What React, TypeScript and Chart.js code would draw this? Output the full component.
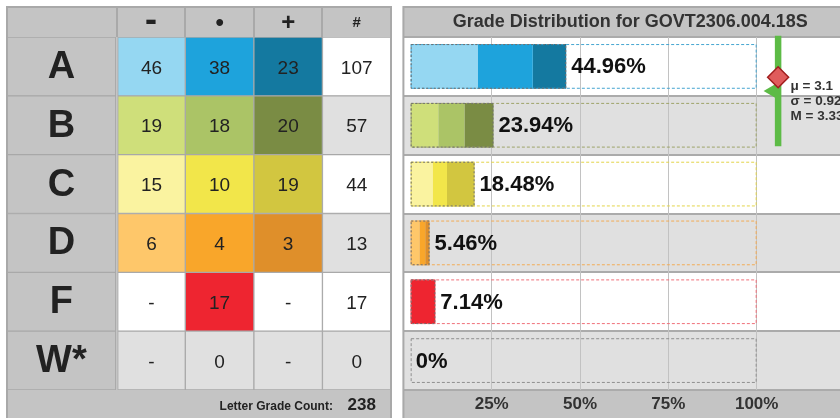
import React, { useEffect, useRef } from 'react';
import { Chart, registerables } from 'chart.js';

Chart.register(...registerables);

// ---------------- data ----------------
const categories = ['A', 'B', 'C', 'D', 'F', 'W*'];
const headerLabels = ['-', '•', '+', '#'];
const minusCounts: (number | null)[] = [46, 19, 15, 6, null, null];
const dotCounts: (number | null)[] = [38, 18, 10, 4, 17, 0];
const plusCounts: (number | null)[] = [23, 20, 19, 3, null, null];
const totalCounts: (number | null)[] = [107, 57, 44, 13, 17, 0];
const letterGradeCount = 238;

const minusPct = [19.33, 7.98, 6.3, 2.52, 0, 0];
const dotPct = [15.97, 7.56, 4.2, 1.68, 7.14, 0];
const plusPct = [9.66, 8.4, 7.98, 1.26, 0, 0];
const totalPct = [44.96, 23.94, 18.48, 5.46, 7.14, 0];
const totalPctLabels = ['44.96%', '23.94%', '18.48%', '5.46%', '7.14%', '0%'];
const gridTicks = [25, 50, 75, 100];

const statMean = 3.1;
const statSd = 0.92;
const statMedian = 3.33;
const chartTitle = 'Grade Distribution for GOVT2306.004.18S';

// ---------------- styles / layout constants ----------------
const FONT = '"Liberation Sans", Arial, Helvetica, sans-serif';
const GRID = '#a9a9a9';
const HEAD = '#c4c4c4';
const TEXT = '#222222';
const GREEN = '#5dbb46';
const ROW_BG = ['#ffffff', '#e0e0e0', '#ffffff', '#e0e0e0', '#ffffff', '#e0e0e0'];
const minusColors = ['#95d7f2', '#cfdf7a', '#faf3a0', '#fec76a', ROW_BG[4], ROW_BG[5]];
const dotColors = ['#1ea3dc', '#abc466', '#f2e64a', '#f9a62a', '#ee2530', ROW_BG[5]];
const plusColors = ['#1479a0', '#7a8c44', '#d2c640', '#df8f2a', ROW_BG[4], ROW_BG[5]];
const outlineColors = ['#45a5d0', '#9ea46a', '#e3d54a', '#f2ab55', '#f0707a', '#8f8f8f'];

const LETTER_SPAN: [number, number] = [-1.6, 0];
const COL_EDGES = [-1.6, 0, 1, 2, 3, 4];
const FULL_SCALE = 100;
const BAR_MIN = -2.1;
const BAR_MAX = 129;
const GRID_MAX = 128.4;
const GPA_MIN = -1.88;
const GPA_MAX = 4;
const STATS_X = 106.2;
const MEAN_MARK_X = 104.4;

const fmt = (v: number | null) => (v == null ? '-' : String(v));
const cells = (col: number) => categories.map(() => [col, col + 1]);

const cellDefaults = {
  borderColor: GRID,
  borderWidth: 1,
  borderSkipped: false,
  barPercentage: 1,
  categoryPercentage: 1,
  grouped: false,
};

const headerFonts = [
  { size: 12, family: FONT },
  { size: 30, weight: 'bold', family: '"DejaVu Sans", ' + FONT },
  { size: 24, weight: 'bold', family: FONT },
  { size: 24, weight: 'bold', family: FONT },
  { size: 15, weight: 'bold', family: FONT },
  { size: 12, family: FONT },
].map((f) => ({ ...f, lineHeight: '24px' }));

const tablePlugin = {
  id: 'tablePlugin',
  beforeDraw(chart: any) {
    const { ctx, chartArea: ca, height } = chart;
    ctx.save();
    ctx.fillStyle = HEAD;
    ctx.fillRect(7, 7, ca.right - 7, height - 7);
    ctx.restore();
  },
  afterDatasetsDraw(chart: any) {
    const { ctx } = chart;
    ctx.save();
    ctx.textAlign = 'center';
    ctx.textBaseline = 'middle';
    chart.data.datasets.forEach((ds: any, di: number) => {
      const meta = chart.getDatasetMeta(di);
      meta.data.forEach((el: any, i: number) => {
        const cx = (el.x + el.base) / 2;
        ctx.font = ds.cellFont;
        ctx.fillStyle = TEXT;
        ctx.fillText(ds.cellText[i], cx, el.y + ds.dy);
      });
    });
    ctx.restore();
  },
  afterDraw(chart: any) {
    const { ctx, chartArea: ca, height } = chart;
    const x = chart.scales.x;
    ctx.save();
    ctx.fillStyle = TEXT;
    ctx.textBaseline = 'alphabetic';
    ctx.textAlign = 'right';
    ctx.font = 'bold 12px ' + FONT;
    ctx.fillText('Letter Grade Count:', x.getPixelForValue(3) + 10.5, 410);
    ctx.textAlign = 'center';
    ctx.font = 'bold 17px ' + FONT;
    ctx.fillText(String(letterGradeCount), x.getPixelForValue(3.5) + 5, 410);
    ctx.strokeStyle = GRID;
    ctx.lineWidth = 2;
    ctx.strokeRect(7, 7, ca.right - 7, height);
    ctx.restore();
  },
};

function leftConfig(): any {
  return {
    type: 'bar',
    data: {
      labels: categories,
      datasets: [
        { ...cellDefaults, label: 'grade', data: categories.map(() => LETTER_SPAN), backgroundColor: HEAD, cellText: categories, cellFont: 'bold 38px ' + FONT, dy: 1 },
        { ...cellDefaults, label: '-', data: cells(0), backgroundColor: minusColors, cellText: minusCounts.map(fmt), cellFont: '19px ' + FONT, dy: 2 },
        { ...cellDefaults, label: '•', data: cells(1), backgroundColor: dotColors, cellText: dotCounts.map(fmt), cellFont: '19px ' + FONT, dy: 2 },
        { ...cellDefaults, label: '+', data: cells(2), backgroundColor: plusColors, cellText: plusCounts.map(fmt), cellFont: '19px ' + FONT, dy: 2 },
        { ...cellDefaults, label: '#', data: cells(3), backgroundColor: ROW_BG, cellText: totalCounts.map(fmt), cellFont: '19px ' + FONT, dy: 2 },
      ],
    },
    options: {
      animation: false,
      responsive: false,
      devicePixelRatio: 1,
      events: [],
      indexAxis: 'y',
      layout: { autoPadding: false, padding: { left: 7, top: 7, right: 9, bottom: 28 } },
      plugins: { legend: { display: false }, tooltip: { enabled: false }, title: { display: false } },
      scales: {
        y: { type: 'category', display: false, offset: true },
        x: {
          type: 'linear',
          position: 'top',
          min: COL_EDGES[0],
          max: COL_EDGES[COL_EDGES.length - 1],
          offset: false,
          afterBuildTicks: (s: any) => {
            s.ticks = COL_EDGES.map((v) => ({ value: v }));
          },
          afterFit: (s: any) => {
            s.height = 30;
          },
          grid: { offset: false, drawOnChartArea: false, drawTicks: true, tickLength: 30, color: GRID, lineWidth: 2 },
          border: { display: false },
          ticks: {
            autoSkip: false,
            maxRotation: 0,
            minRotation: 0,
            labelOffset: 34.3,
            padding: -28,
            color: TEXT,
            font: (c: any) => headerFonts[c.index] || headerFonts[0],
            callback: (_v: any, i: number) => (i >= 1 && i <= headerLabels.length ? headerLabels[i - 1] : ''),
          },
        },
      },
    },
    plugins: [tablePlugin],
  };
}

const distPlugin = {
  id: 'distPlugin',
  beforeDraw(chart: any) {
    const { ctx, chartArea: ca, width, height } = chart;
    const y = chart.scales.y;
    const rowH = ca.height / categories.length;
    ctx.save();
    ctx.fillStyle = HEAD;
    ctx.fillRect(ca.left, 7, width - ca.left, height - 7);
    categories.forEach((_c, i) => {
      ctx.fillStyle = ROW_BG[i];
      ctx.fillRect(ca.left, y.getPixelForValue(i) - rowH / 2, ca.width, rowH);
    });
    ctx.restore();
  },
  afterDatasetsDraw(chart: any) {
    const { ctx } = chart;
    const xs = chart.scales.x;
    const barMeta = chart.data.datasets.findIndex((d: any) => d.type === 'bar');
    const meta = chart.getDatasetMeta(barMeta);
    const x0 = xs.getPixelForValue(0);
    const x100 = xs.getPixelForValue(FULL_SCALE);
    ctx.save();
    ctx.lineWidth = 1;
    meta.data.forEach((el: any, i: number) => {
      const top = el.y - el.height / 2;
      const h = el.height;
      ctx.setLineDash([3, 2]);
      ctx.strokeStyle = outlineColors[i];
      ctx.strokeRect(x0 + 0.5, top + 0.5, x100 - x0 - 1, h - 1);
      const xt = xs.getPixelForValue(totalPct[i]);
      if (totalPct[i] > 0) {
        ctx.setLineDash([2, 2]);
        ctx.strokeStyle = '#707070';
        ctx.strokeRect(x0 + 0.5, top + 0.5, xt - x0 - 1, h - 1);
      }
      ctx.setLineDash([]);
      ctx.font = 'bold 22px ' + FONT;
      ctx.fillStyle = '#111';
      ctx.textAlign = 'left';
      ctx.textBaseline = 'middle';
      ctx.fillText(totalPctLabels[i], xt + 5, el.y + 1);
    });
    // stats text
    const sx = chart.scales.xs.getPixelForValue(STATS_X) + 12.5;
    const sy = chart.scales.g.getPixelForValue(statMean) - 1;
    ctx.font = 'bold 13.5px ' + FONT;
    ctx.fillStyle = '#333';
    ctx.textBaseline = 'alphabetic';
    [`μ = ${statMean}`, `σ = ${statSd}`, `M = ${statMedian}`].forEach((t, i) => {
      ctx.fillText(t, sx, sy + i * 15);
    });
    ctx.restore();
  },
  afterDraw(chart: any) {
    const { ctx, chartArea: ca, width, height } = chart;
    ctx.save();
    ctx.strokeStyle = GRID;
    ctx.lineWidth = 2;
    ctx.strokeRect(ca.left, 7, width - ca.left + 5, height);
    ctx.restore();
  },
};

function rightConfig(): any {
  const barOpts = {
    type: 'bar', xAxisID: 'x', yAxisID: 'y', stack: 'grades', grouped: false,
    borderWidth: 0, barPercentage: 0.76, categoryPercentage: 1, order: 5,
  };
  return {
    type: 'bar',
    data: {
      labels: categories,
      datasets: [
        {
          type: 'scatter', label: 'median', data: [{ x: STATS_X, y: statMedian }], xAxisID: 'xs', yAxisID: 'g',
          pointStyle: 'rectRot', pointRadius: 10.5, pointHoverRadius: 10.5, pointBackgroundColor: '#e05c5c', pointBorderColor: '#a11d1d', pointBorderWidth: 1.5, order: 0, clip: false,
        },
        {
          type: 'line', label: 'sd range', data: [{ x: STATS_X, y: statMean + statSd }, { x: STATS_X, y: statMean - statSd }], xAxisID: 'xs', yAxisID: 'g',
          borderColor: GREEN, borderWidth: 6.5, pointRadius: 0, borderCapStyle: 'butt', fill: false, order: 1, clip: false,
        },
        {
          type: 'scatter', label: 'mean', data: [{ x: MEAN_MARK_X, y: statMean }], xAxisID: 'xs', yAxisID: 'g',
          pointStyle: 'triangle', pointRotation: -90, pointRadius: 8.3, pointHoverRadius: 8.3, pointBackgroundColor: GREEN, pointBorderColor: GREEN, pointBorderWidth: 0, order: 2, clip: false,
        },
        { ...barOpts, label: '-', data: minusPct, backgroundColor: minusColors },
        { ...barOpts, label: '•', data: dotPct, backgroundColor: dotColors },
        { ...barOpts, label: '+', data: plusPct, backgroundColor: plusColors },
      ],
    },
    options: {
      animation: false,
      responsive: false,
      devicePixelRatio: 1,
      events: [],
      indexAxis: 'y',
      layout: { autoPadding: false, padding: { left: 3.4, top: 7, right: 3, bottom: 0 } },
      plugins: {
        legend: { display: false },
        tooltip: { enabled: false },
        title: { display: true, text: chartTitle, color: '#333', font: { size: 18, weight: 'bold', family: FONT, lineHeight: 1.2 }, padding: { top: 4.5, bottom: 3.9 } },
      },
      scales: {
        y: {
          type: 'category', stacked: true, offset: true, display: true,
          grid: { offset: true, color: '#ababab', lineWidth: 2, drawTicks: false },
          border: { display: false }, ticks: { display: false },
          afterFit: (s: any) => { s.width = 0; },
        },
        x: { type: 'linear', axis: 'x', display: false, stacked: true, min: BAR_MIN, max: BAR_MAX, offset: false },
        xs: { type: 'linear', axis: 'x', display: false, min: BAR_MIN, max: BAR_MAX, offset: false },
        g: { type: 'linear', axis: 'y', display: false, min: GPA_MIN, max: GPA_MAX, offset: false },
        xg: {
          type: 'linear', axis: 'x', position: 'bottom', min: 0, max: GRID_MAX, offset: false,
          afterBuildTicks: (s: any) => { s.ticks = gridTicks.map((v) => ({ value: v })); },
          afterFit: (s: any) => { s.height = 28; },
          grid: { offset: false, color: '#c2c2c2', lineWidth: 1, drawTicks: false },
          border: { display: false },
          ticks: { autoSkip: false, maxRotation: 0, minRotation: 0, padding: 4.3, color: '#333', font: { size: 17, weight: 'bold', family: FONT }, callback: (v: any) => `${v}%` },
        },
      },
    },
    plugins: [distPlugin],
  };
}

export default function App() {
  const leftRef = useRef<HTMLCanvasElement>(null);
  const rightRef = useRef<HTMLCanvasElement>(null);
  useEffect(() => {
    const left = new Chart(leftRef.current as HTMLCanvasElement, leftConfig());
    const right = new Chart(rightRef.current as HTMLCanvasElement, rightConfig());
    return () => {
      left.destroy();
      right.destroy();
    };
  }, []);
  return (
    <div style={{ position: 'fixed', left: 0, top: 0, width: 840, height: 418, overflow: 'hidden', background: '#fff' }}>
      <canvas ref={leftRef} width={400} height={418} style={{ position: 'absolute', left: 0, top: 0 }} />
      <canvas ref={rightRef} width={460} height={418} style={{ position: 'absolute', left: 400, top: 0 }} />
    </div>
  );
}
